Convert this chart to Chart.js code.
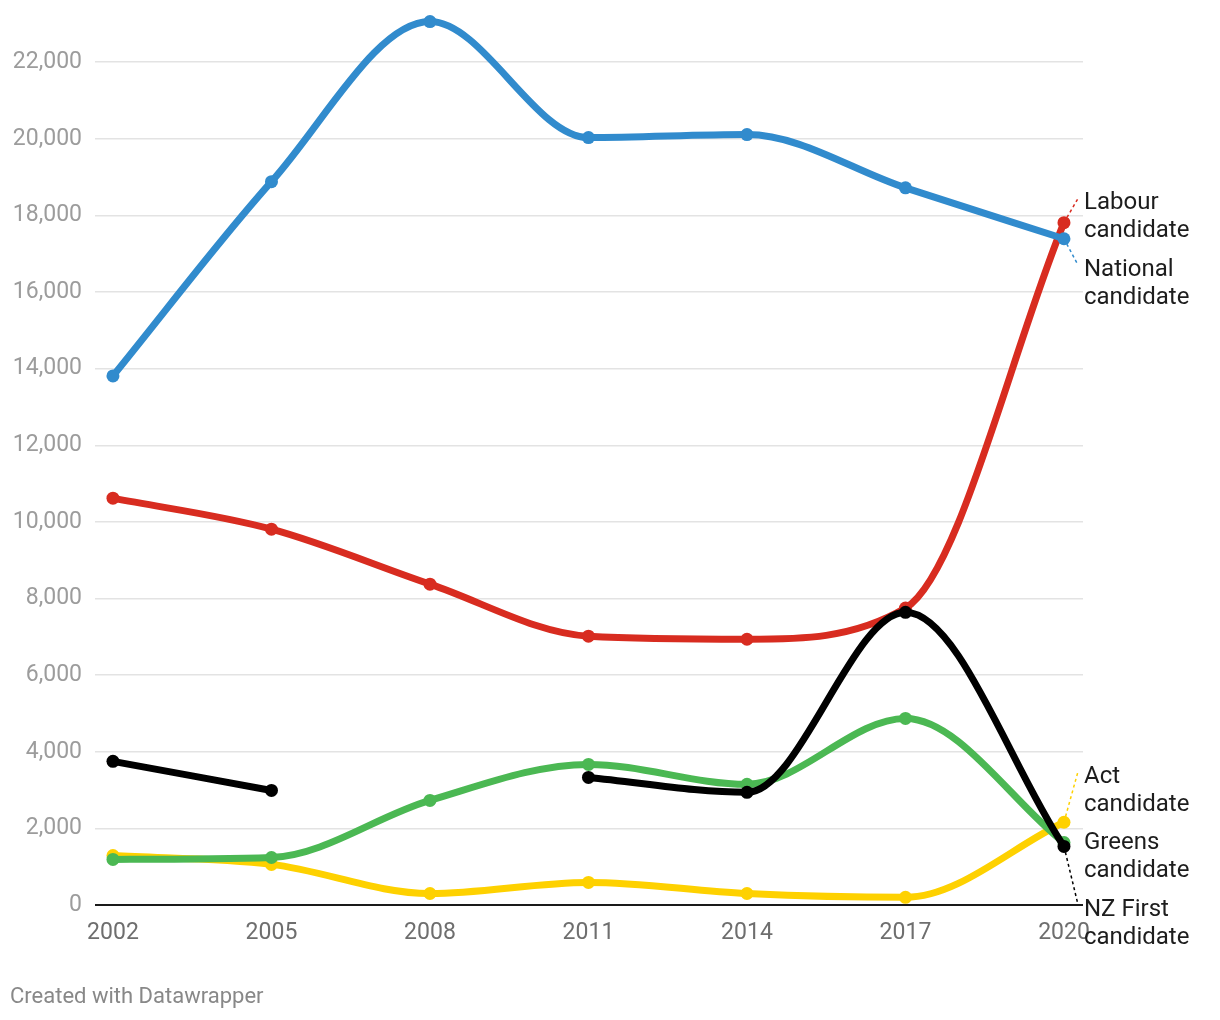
<!DOCTYPE html>
<html>
<head>
<meta charset="utf-8">
<script src="https://cdn.jsdelivr.net/npm/chart.js@4"></script>
<style>
  body { margin: 0; background: #fff; }
  #wrap { position: relative; width: 1220px; height: 1020px; }
  #credit {
    position: absolute; left: 10px; top: 983px;
    font: 22px Roboto, sans-serif; color: #888;
  }
</style>
</head>
<body>
<div id="wrap">
  <canvas id="votesChart" width="1220" height="1020"></canvas>
  <div id="credit">Created with Datawrapper</div>
</div>
<script>
const years = [2002, 2005, 2008, 2011, 2014, 2017, 2020];
const yTicks = [0, 2000, 4000, 6000, 8000, 10000, 12000, 14000, 16000, 18000, 20000, 22000];

const national = [13810, 18880, 23060, 20030, 20110, 18720, 17390];
const labour = [10620, 9810, 8375, 7016, 6937, 7750, 17810];
const greens = [1190, 1240, 2730, 3670, 3150, 4870, 1630];
const act = [1290, 1060, 300, 590, 300, 200, 2160];
const nzFirst = [3750, 2990, null, 3330, 2940, 7640, 1530];

const seriesNames = ["NZ First candidate", "National candidate", "Greens candidate", "Labour candidate", "Act candidate"];
const seriesValues = [nzFirst, national, greens, labour, act];
const seriesColors = ["#000000", "#318bcd", "#4bb853", "#d82c20", "#fed100"];

// labels at the right end of each line, spread apart so they don't collide
const endLabels = {
  id: "endLabels",
  afterDatasetsDraw(chart) {
    const ctx = chart.ctx;
    const xs = chart.scales.x, ys = chart.scales.y;
    const gap = 66.5, lineH = 28;
    const items = chart.data.datasets.map((ds) => {
      const last = ds.data[ds.data.length - 1];
      const py = ys.getPixelForValue(last.y);
      return { ds, px: xs.getPixelForValue(last.x), py, want: py + 6 };
    });
    items.sort((a, b) => a.py - b.py);

    let groups = items.map((it) => [it]);
    const topOf = (g) => g.reduce((s, it) => s + it.want, 0) / g.length - (g.length - 1) * gap / 2;
    let merged = true;
    while (merged) {
      merged = false;
      for (let i = 0; i < groups.length - 1; i++) {
        if (topOf(groups[i]) + groups[i].length * gap > topOf(groups[i + 1])) {
          groups[i] = groups[i].concat(groups[i + 1]);
          groups.splice(i + 1, 1);
          merged = true;
          break;
        }
      }
    }

    const tx = chart.chartArea.right + 1;
    ctx.save();
    ctx.font = "24px Roboto, sans-serif";
    ctx.textBaseline = "middle";
    ctx.textAlign = "left";
    groups.forEach((g) => {
      const top = topOf(g);
      g.forEach((it, k) => {
        const first = top + k * gap;
        const words = it.ds.label.split(" ");
        const line1 = words.slice(0, -1).join(" ");
        const line2 = words[words.length - 1];
        ctx.fillStyle = "#1d1d1d";
        ctx.fillText(line1, tx, first);
        ctx.fillText(line2, tx, first + lineH);

        if (Math.abs(first - it.py) > 8) {
          const ex = tx - 6, ey = first - 5;
          const dx = ex - it.px, dy = ey - it.py;
          const len = Math.hypot(dx, dy);
          ctx.beginPath();
          ctx.setLineDash([3, 3]);
          ctx.lineWidth = 1.5;
          ctx.strokeStyle = it.ds.borderColor;
          ctx.moveTo(it.px + dx / len * 6, it.py + dy / len * 6);
          ctx.lineTo(ex, ey);
          ctx.stroke();
          ctx.setLineDash([]);
        }
      });
    });
    ctx.restore();
  }
};

const ctxVotes = document.getElementById("votesChart").getContext("2d");
new Chart(ctxVotes, {
  type: "line",
  data: {
    datasets: seriesNames.map((name, i) => ({
      label: name,
      data: years.map((yr, j) => ({ x: yr, y: seriesValues[i][j] })),
      borderColor: seriesColors[i],
      backgroundColor: seriesColors[i],
      borderWidth: 7,
      pointRadius: 6.5,
      pointBorderWidth: 0,
      pointHoverRadius: 6.5,
      cubicInterpolationMode: "monotone",
      spanGaps: false,
      clip: false,
    })),
  },
  options: {
    responsive: false,
    animation: false,
    events: [],
    layout: {
      padding: { top: 20, right: 137, left: 0, bottom: 55 },
    },
    plugins: {
      legend: { display: false },
      tooltip: { enabled: false },
    },
    scales: {
      x: {
        type: "linear",
        min: 2001.66,
        max: 2020.36,
        grid: { display: false },
        border: { display: false },
        afterBuildTicks: (scale) => {
          scale.ticks = years.map((v) => ({ value: v }));
        },
        afterFit: (scale) => {
          scale.height = 60;
          scale.paddingLeft = 0;
          scale.paddingRight = 0;
        },
        ticks: {
          padding: 6,
          maxRotation: 0,
          autoSkip: false,
          color: "#6e6e6e",
          font: { family: "Roboto", size: 23 },
          callback: (v) => String(v),
        },
      },
      y: {
        min: 0,
        max: 23100,
        border: { display: false },
        afterBuildTicks: (scale) => {
          scale.ticks = yTicks.map((v) => ({ value: v }));
        },
        afterFit: (scale) => {
          scale.width = 95;
          scale.paddingTop = 0;
          scale.paddingBottom = 0;
        },
        grid: {
          drawTicks: false,
          color: (c) => (c.tick && c.tick.value === 0 ? "#1a1a1a" : "#e3e3e3"),
          lineWidth: (c) => (c.tick && c.tick.value === 0 ? 2 : 1.5),
        },
        ticks: {
          padding: 13,
          color: "#9c9c9c",
          font: { family: "Roboto", size: 23 },
          callback: (v) => v.toLocaleString("en-US"),
        },
      },
    },
  },
  plugins: [endLabels],
});
</script>
</body>
</html>
